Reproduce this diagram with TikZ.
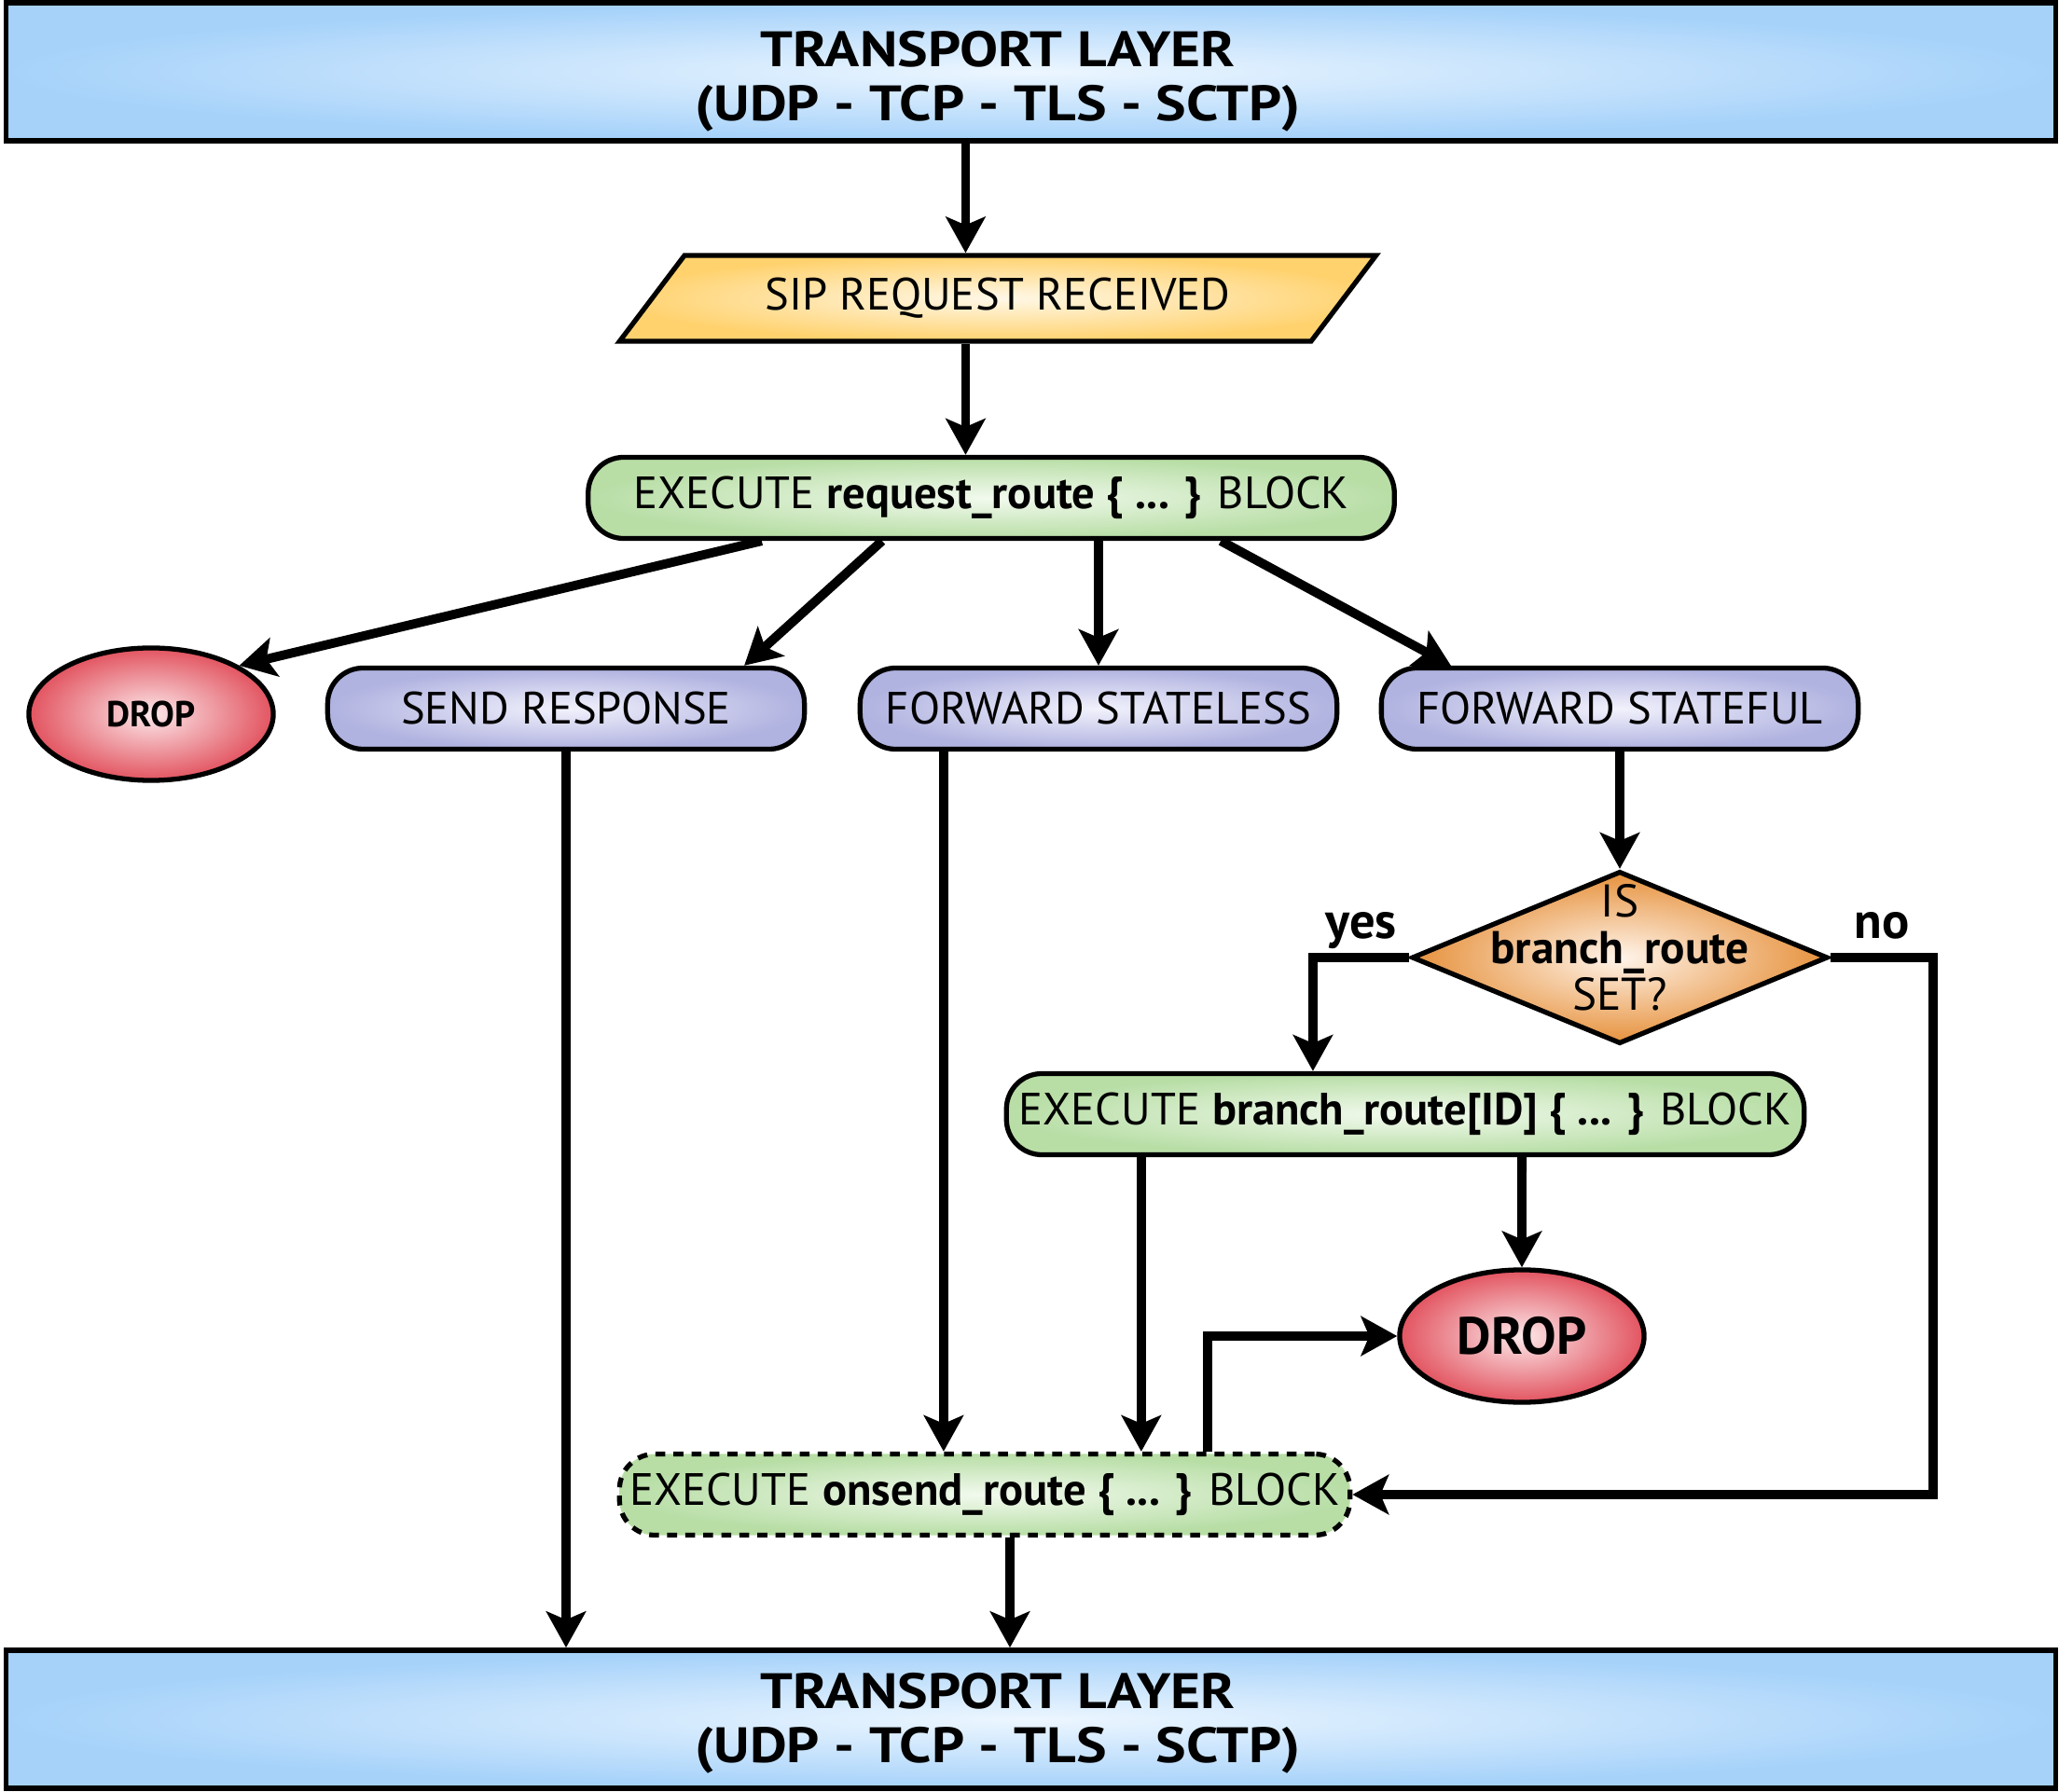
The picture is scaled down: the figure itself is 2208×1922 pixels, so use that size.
\documentclass[tikz,border=0pt]{standalone}
\usepackage{fontspec}
\setmainfont{PT Sans}
\newfontfamily\layerfont[FakeStretch=1.15]{PT Sans}
\usepackage{tikz}
\usetikzlibrary{arrows.meta, positioning, shapes.geometric}

\definecolor{blueOut}{RGB}{166,210,250}
\definecolor{blueIn}{RGB}{236,246,255}
\definecolor{yelOut}{RGB}{255,210,110}
\definecolor{yelIn}{RGB}{255,248,232}
\definecolor{grnOut}{RGB}{184,222,166}
\definecolor{grnIn}{RGB}{242,250,238}
\definecolor{lavOut}{RGB}{176,178,224}
\definecolor{lavIn}{RGB}{242,242,252}
\definecolor{redOut}{RGB}{226,84,96}
\definecolor{redIn}{RGB}{252,232,234}
\definecolor{orgOut}{RGB}{230,145,60}
\definecolor{orgIn}{RGB}{255,244,234}

\begin{document}
\begin{tikzpicture}[x=0.01cm, y=-0.01cm]

\tikzset{layer/.style = {rectangle, draw, line width=1.6pt, minimum width=21.97cm, minimum height=1.48cm, inner color=blueIn, outer color=blueOut}}
\tikzset{layertext/.style = {align=center, inner sep=0pt, font=\fontsize{15.2}{16.5}\layerfont\bfseries}}
\tikzset{inbox/.style = {trapezium, trapezium left angle=51, trapezium right angle=129, trapezium stretches=true, draw, line width=1.5pt, minimum width=8.11cm, minimum height=0.92cm, inner color=yelIn, outer color=yelOut, font=\fontsize{13.8}{15}\selectfont}}
\tikzset{routebox/.style = {rectangle, rounded corners=0.38cm, draw, line width=1.5pt, minimum height=0.87cm, inner color=grnIn, outer color=grnOut, inner sep=2pt, font=\fontsize{13.8}{15}\selectfont}}
\tikzset{actbox/.style = {rectangle, rounded corners=0.38cm, draw, line width=1.5pt, minimum width=5.11cm, minimum height=0.87cm, inner color=lavIn, outer color=lavOut, font=\fontsize{13.8}{15}\selectfont}}
\tikzset{dropnode/.style = {ellipse, draw, line width=1.5pt, minimum width=2.62cm, minimum height=1.42cm, inner color=redIn, outer color=redOut}}
\tikzset{decision/.style = {diamond, aspect=2.41, draw, line width=1.5pt, minimum width=4.46cm, minimum height=1.85cm, inner xsep=0pt, inner ysep=-0.44cm, text depth=0.22cm, inner color=orgIn, outer color=orgOut, align=center, font=\fontsize{14}{14.2}\selectfont}}
\tikzset{flow/.style = {line width=2.8pt, -{Stealth[length=11pt, width=12pt, inset=2.5pt]}}}
\tikzset{answer/.style = {font=\fontsize{15.5}{17}\selectfont\bfseries, anchor=base, yshift=0.2cm}}

\useasboundingbox (0,0) rectangle (2208,1922);

% vertices
\node[layer] (top) at (1105.5,77) {};
\node[layertext] (toptext) at ([xshift=-0.355cm, yshift=-0.1cm]top.center) {TRANSPORT LAYER\\(UDP - TCP - TLS - SCTP)};
\node[inbox] (sip) at (1070,320) {SIP REQUEST RECEIVED};
\node[routebox, minimum width=8.64cm] (req) at (1063,534) {EXECUTE \textbf{request\_route \{ ... \}} BLOCK};
\node[dropnode, font=\fontsize{11}{12}\selectfont\bfseries] (drop1) at (162,766) {DROP};
\node[actbox] (send) at (607,760) {SEND RESPONSE};
\node[actbox] (stateless) at (1178,760) {FORWARD STATELESS};
\node[actbox] (stateful) at (1737,760) {FORWARD STATEFUL};
\node[decision] (dia) at (1737,1027) {IS\\\textbf{branch\_route}\\SET?};
\node[routebox, minimum width=8.55cm] (branch) at (1507,1195) {EXECUTE \textbf{branch\_route[ID] \{ ... \}} BLOCK};
\node[dropnode, font=\fontsize{16}{17}\selectfont\bfseries] (drop2) at (1632,1433) {DROP};
\node[routebox, dash pattern=on 3pt off 2.5pt, minimum width=7.83cm] (onsend) at (1056,1603) {EXECUTE \textbf{onsend\_route \{ ... \}} BLOCK};
\node[layer] (bot) at (1105.5,1844) {};
\node[layertext] (bottext) at ([xshift=-0.355cm, yshift=-0.04cm]bot.center) {TRANSPORT LAYER\\(UDP - TCP - TLS - SCTP)};

\coordinate (t1) at ([xshift=-0.7cm]top.south);
\coordinate (t2) at (sip.south -| t1);
\coordinate (s1) at ([xshift=-1.66cm]stateless.south);
\coordinate (b1) at ([xshift=-2.83cm]branch.south);
\coordinate (o1) at ([xshift=2.39cm]onsend.north);
\coordinate (o2) at ([xshift=0.27cm]onsend.south);

%edges
\draw[flow] (t1) -- (t1 |- sip.north);
\draw[flow] (t2) -- (t2 |- req.north);
\draw[flow] ([xshift=-2.46cm]req.south) -- (drop1.north east);
\draw[flow] ([xshift=-1.17cm]req.south) -- ([xshift=1.91cm]send.north);
\draw[flow] ([xshift=1.15cm]req.south) -- (stateless.north);
\draw[flow] ([xshift=2.46cm]req.south) -- ([xshift=-1.81cm]stateful.north);
\draw[flow] (stateful.south) -- (dia.north);
\draw[flow] (dia.west) -| node[answer, pos=0.25] {yes} ([xshift=-0.99cm]branch.north);
\draw[flow] (dia.east) -- node[answer] {no} ++(110,0) |- (onsend.east);
\draw[flow] (b1) -- (b1 |- onsend.north);
\draw[flow] ([xshift=1.25cm]branch.south) -- (drop2.north);
\draw[flow] (o1) |- (drop2.west);
\draw[flow] (s1) -- (s1 |- onsend.north);
\draw[flow] (send.south) -- (send.south |- bot.north);
\draw[flow] (o2) -- (o2 |- bot.north);

\end{tikzpicture}
\end{document}
